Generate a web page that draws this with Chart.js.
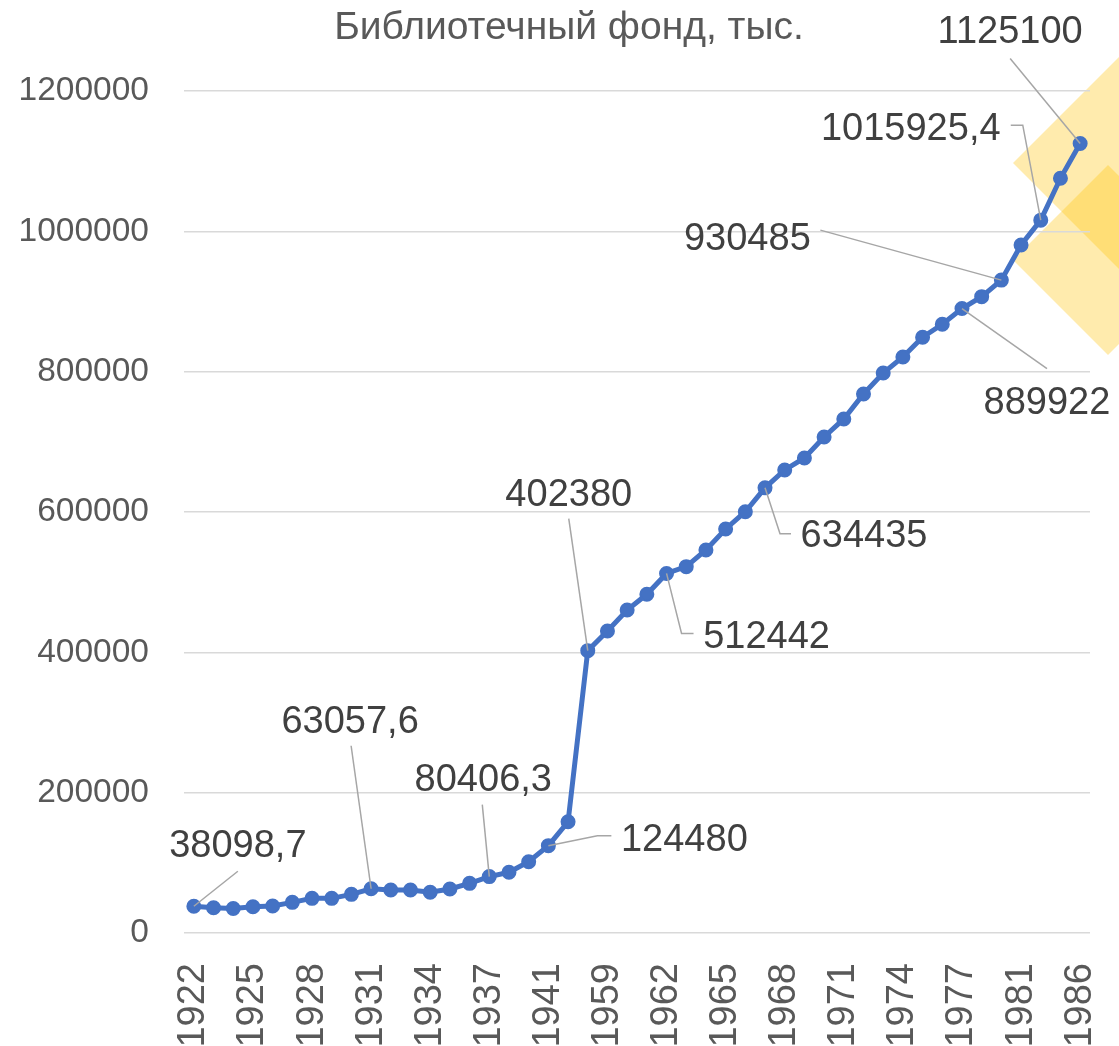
<!DOCTYPE html>
<html>
<head>
<meta charset="utf-8">
<script src="https://cdn.jsdelivr.net/npm/chart.js@4/dist/chart.umd.min.js"></script>
<style>
  html, body { margin: 0; padding: 0; background: #fff; }
  #wrap { width: 1119px; height: 1046px; }
</style>
</head>
<body>
<div id="wrap"><canvas id="chart"></canvas></div>
<script>
// categories (years), only every third one is shown on the axis
const years = [
    '1922', '1923', '1924', '1925', '1926', '1927', '1928', '1929', '1930', '1931',
    '1932', '1933', '1934', '1935', '1936', '1937', '1938', '1940', '1941', '1945',
    '1958', '1959', '1960', '1961', '1962', '1963', '1964', '1965', '1966', '1967',
    '1968', '1969', '1970', '1971', '1972', '1973', '1974', '1975', '1976', '1977',
    '1979', '1980', '1981', '1983', '1985', '1986'
];

// library stock, thousands
const fund = [
    38098.7, 36000, 35000, 37500, 38500, 43700, 49400, 49400, 55100, 63057.6,
    61300, 61300, 58000, 62700, 70800, 80406.3, 86500, 101600, 124480, 158600,
    402380, 430400, 460300, 482700, 512442, 522100, 545900, 575800, 600400, 634435,
    659900, 677000, 706900, 732600, 768200, 798100, 821000, 849000, 867500, 889922,
    906900, 930485, 980500, 1015925.4, 1075600, 1125100
];

const yTicks = [0, 200000, 400000, 600000, 800000, 1000000, 1200000];

const chartTitle = 'Библиотечный фонд, тыс.';

// which points carry a value label
const labelled = [0, 9, 15, 18, 20, 24, 29, 39, 41, 43, 45];

// label placement relative to the point: text centre, leader line (from label side to point)
const labelLayout = {
    0:  { t: [44, -63],    lead: [[44, -35]] },
    9:  { t: [-21, -169],  lead: [[-20, -143]] },
    15: { t: [-6, -99],    lead: [[-7, -72]] },
    18: { t: [136, -8],    lead: [[63, -10], [49, -10]] },
    20: { t: [-19, -158],  lead: [[-19, -132]] },
    24: { t: [100, 61],    lead: [[27, 60], [15, 60]] },
    29: { t: [99, 46],     lead: [[26, 46], [15, 46]] },
    39: { t: [85, 92],     lead: [[85, 60]] },
    41: { t: [-254, -44],  lead: [[-181, -50]] },
    43: { t: [-130, -94],  lead: [[-30, -95], [-18, -95]] },
    45: { t: [-70, -114],  lead: [[-70, -85]] }
};

const FONT = "'Liberation Sans', Arial, sans-serif";

function fmt(v) {
    return String(v).replace('.', ',');
}

// yellow decorative diamonds behind the plot (top right corner) + the title
const backdrop = {
    id: 'backdrop',
    beforeDraw(chart) {
        const ctx = chart.ctx;
        ctx.save();
        ctx.fillStyle = 'rgba(255, 192, 0, 0.32)';
        const shapes = [[1123, 163, 110], [1108, 260, 95]];
        shapes.forEach(([cx, cy, r]) => {
            ctx.beginPath();
            ctx.moveTo(cx - r, cy);
            ctx.lineTo(cx, cy - r);
            ctx.lineTo(cx + r, cy);
            ctx.lineTo(cx, cy + r);
            ctx.closePath();
            ctx.fill();
        });
        // title is centred on the whole chart box, not the plot area
        ctx.fillStyle = '#595959';
        ctx.font = '39px ' + FONT;
        ctx.textAlign = 'center';
        ctx.textBaseline = 'alphabetic';
        ctx.fillText(chartTitle, 569, 39);
        ctx.restore();
    }
};

const valueLabels = {
    id: 'valueLabels',
    afterDatasetsDraw(chart) {
        const ctx = chart.ctx;
        const meta = chart.getDatasetMeta(0);
        ctx.save();
        labelled.forEach(i => {
            const pt = meta.data[i];
            const lay = labelLayout[i];
            // leader line
            ctx.strokeStyle = '#a6a6a6';
            ctx.lineWidth = 1.5;
            ctx.beginPath();
            ctx.moveTo(pt.x + lay.lead[0][0], pt.y + lay.lead[0][1]);
            for (let k = 1; k < lay.lead.length; k++) {
                ctx.lineTo(pt.x + lay.lead[k][0], pt.y + lay.lead[k][1]);
            }
            ctx.lineTo(pt.x, pt.y);
            ctx.stroke();
        });
        ctx.fillStyle = '#404040';
        ctx.font = '38px ' + FONT;
        ctx.textAlign = 'center';
        ctx.textBaseline = 'alphabetic';
        labelled.forEach(i => {
            const pt = meta.data[i];
            const lay = labelLayout[i];
            ctx.fillText(fmt(fund[i]), pt.x + lay.t[0], pt.y + lay.t[1] + 13.6);
        });
        ctx.restore();
    }
};

new Chart(document.getElementById('chart'), {
    type: 'line',
    data: {
        labels: years,
        datasets: [{
            label: chartTitle,
            data: fund,
            borderColor: '#4472c4',
            backgroundColor: '#4472c4',
            borderWidth: 5,
            pointRadius: 6.5,
            pointBorderWidth: 2,
            pointBackgroundColor: '#4472c4',
            pointBorderColor: '#4472c4',
            tension: 0,
            fill: false
        }]
    },
    options: {
        responsive: true,
        maintainAspectRatio: false,
        animation: false,
        layout: { padding: { left: 0, right: 29, top: 91, bottom: 0 } },
        plugins: {
            legend: { display: false },
            tooltip: { enabled: false },
            title: { display: false }
        },
        scales: {
            x: {
                offset: true,
                grid: { display: false, drawTicks: false },
                border: { display: false },
                ticks: {
                    autoSkip: false,
                    maxRotation: 90,
                    minRotation: 90,
                    padding: 30,
                    color: '#595959',
                    font: { family: FONT, size: 38 },
                    callback: (v, i) => (i % 3 === 0 ? years[i] : '')
                },
                afterFit: s => {
                    s.height = 113;
                    s.paddingLeft = 0;
                    s.paddingRight = 0;
                }
            },
            y: {
                min: 0,
                max: 1200000,
                grid: { color: '#d9d9d9', lineWidth: 1.5, drawTicks: false },
                border: { display: false },
                afterBuildTicks: s => { s.ticks = yTicks.map(v => ({ value: v })); },
                ticks: {
                    padding: 35,
                    color: '#595959',
                    font: { family: FONT, size: 33.5 },
                    callback: v => String(v)
                },
                afterFit: s => {
                    s.width = 184;
                    s.paddingTop = 0;
                    s.paddingBottom = 0;
                }
            }
        }
    },
    plugins: [backdrop, valueLabels]
});
</script>
</body>
</html>
